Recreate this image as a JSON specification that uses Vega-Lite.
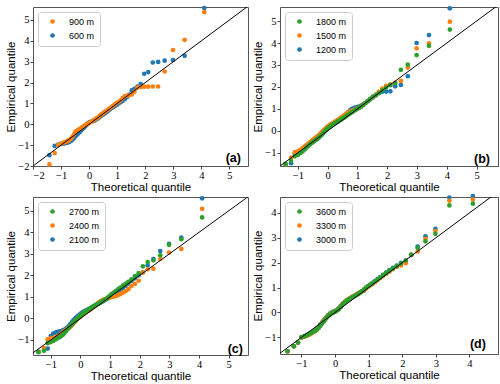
{
"$schema": "https://vega.github.io/schema/vega-lite/v6.json",
"padding": {"left": 5, "top": 5, "right": 2, "bottom": 0},
"concat": [
{"width": 215, "height": 159,
 "encoding": {
  "x": {"field": "x", "type": "quantitative", "scale": {"domain": [-2, 5.66], "nice": false, "zero": false}, "axis": {"values": [-2,-1,0,1,2,3,4,5], "format": "d", "title": "Theoretical quantile"}},
  "y": {"field": "y", "type": "quantitative", "scale": {"domain": [-2, 5.62], "nice": false, "zero": false}, "axis": {"values": [-2,-1,0,1,2,3,4,5], "format": "d", "title": "Empirical quantile"}}},
 "layer": [
  {"data": {"name": "a"}, "mark": {"type": "point", "filled": true, "size": 22, "opacity": 1},
   "encoding": {"color": {"field": "s", "type": "nominal", "scale": {"domain": ["900 m", "600 m"], "range": ["#ff7f0e", "#1f77b4"]}, "legend": {"title": null}}}},
  {"data": {"values": [{"x": -3, "y": -3}, {"x": 8, "y": 8}]}, "mark": {"type": "line", "color": "black", "strokeWidth": 1, "clip": true}},
  {"data": {"values": [{"x": 5.41, "y": -1.64, "t": "(a)"}]}, "mark": {"type": "text", "align": "right", "baseline": "middle", "fontWeight": "bold", "fontSize": 12.5, "font": "Liberation Sans"}, "encoding": {"text": {"field": "t"}}}
 ]},
{"width": 218, "height": 159,
 "encoding": {
  "x": {"field": "x", "type": "quantitative", "scale": {"domain": [-1.6, 5.72], "nice": false, "zero": false}, "axis": {"values": [-1,0,1,2,3,4,5], "format": "d", "title": "Theoretical quantile"}},
  "y": {"field": "y", "type": "quantitative", "scale": {"domain": [-1.6, 5.64], "nice": false, "zero": false}, "axis": {"values": [-1,0,1,2,3,4,5], "format": "d", "title": "Empirical quantile"}}},
 "layer": [
  {"data": {"name": "b"}, "mark": {"type": "point", "filled": true, "size": 22, "opacity": 1},
   "encoding": {"color": {"field": "s", "type": "nominal", "scale": {"domain": ["1800 m", "1500 m", "1200 m"], "range": ["#2ca02c", "#ff7f0e", "#1f77b4"]}, "legend": {"title": null}}}},
  {"data": {"values": [{"x": -3, "y": -3}, {"x": 8, "y": 8}]}, "mark": {"type": "line", "color": "black", "strokeWidth": 1, "clip": true}},
  {"data": {"values": [{"x": 5.45, "y": -1.26, "t": "(b)"}]}, "mark": {"type": "text", "align": "right", "baseline": "middle", "fontWeight": "bold", "fontSize": 12.5, "font": "Liberation Sans"}, "encoding": {"text": {"field": "t"}}}
 ]},
{"width": 215, "height": 158,
 "encoding": {
  "x": {"field": "x", "type": "quantitative", "scale": {"domain": [-1.6, 5.65], "nice": false, "zero": false}, "axis": {"values": [-1,0,1,2,3,4,5], "format": "d", "title": "Theoretical quantile"}},
  "y": {"field": "y", "type": "quantitative", "scale": {"domain": [-1.7, 5.64], "nice": false, "zero": false}, "axis": {"values": [-1,0,1,2,3,4,5], "format": "d", "title": "Empirical quantile"}}},
 "layer": [
  {"data": {"name": "c"}, "mark": {"type": "point", "filled": true, "size": 22, "opacity": 1},
   "encoding": {"color": {"field": "s", "type": "nominal", "scale": {"domain": ["2700 m", "2400 m", "2100 m"], "range": ["#2ca02c", "#ff7f0e", "#1f77b4"]}, "legend": {"title": null}}}},
  {"data": {"values": [{"x": -3, "y": -3}, {"x": 8, "y": 8}]}, "mark": {"type": "line", "color": "black", "strokeWidth": 1, "clip": true}},
  {"data": {"values": [{"x": 5.48, "y": -1.4, "t": "(c)"}]}, "mark": {"type": "text", "align": "right", "baseline": "middle", "fontWeight": "bold", "fontSize": 12.5, "font": "Liberation Sans"}, "encoding": {"text": {"field": "t"}}}
 ]},
{"width": 218, "height": 157,
 "encoding": {
  "x": {"field": "x", "type": "quantitative", "scale": {"domain": [-1.64, 4.85], "nice": false, "zero": false}, "axis": {"values": [-1,0,1,2,3,4], "format": "d", "title": "Theoretical quantile"}},
  "y": {"field": "y", "type": "quantitative", "scale": {"domain": [-1.67, 4.64], "nice": false, "zero": false}, "axis": {"values": [-1,0,1,2,3,4], "format": "d", "title": "Empirical quantile"}}},
 "layer": [
  {"data": {"name": "d"}, "mark": {"type": "point", "filled": true, "size": 22, "opacity": 1},
   "encoding": {"color": {"field": "s", "type": "nominal", "scale": {"domain": ["3600 m", "3300 m", "3000 m"], "range": ["#2ca02c", "#ff7f0e", "#1f77b4"]}, "legend": {"title": null}}}},
  {"data": {"values": [{"x": -3, "y": -3}, {"x": 8, "y": 8}]}, "mark": {"type": "line", "color": "black", "strokeWidth": 1, "clip": true}},
  {"data": {"values": [{"x": 4.49, "y": -1.27, "t": "(d)"}]}, "mark": {"type": "text", "align": "right", "baseline": "middle", "fontWeight": "bold", "fontSize": 12.5, "font": "Liberation Sans"}, "encoding": {"text": {"field": "t"}}}
 ]}
],
"columns": 2,
"spacing": {"row": 31, "column": 32},
"bounds": "flush",
"align": "each",
"resolve": {"scale": {"color": "independent"}, "legend": {"color": "independent"}},
"config": {
 "view": {"stroke": "#555", "strokeWidth": 1},
 "axis": {"grid": false, "domain": false, "tickSize": 3, "tickColor": "#444", "labelFont": "Liberation Serif", "labelFontSize": 10.5, "labelColor": "black", "labelPadding": 1, "titleFont": "Liberation Sans", "titleFontSize": 11.5, "titleFontWeight": "normal", "titleColor": "black", "titlePadding": 1},
 "legend": {"orient": "top-left", "offset": 5, "padding": 5, "strokeColor": "#ccc", "fillColor": "white", "cornerRadius": 3, "symbolType": "circle", "symbolSize": 22, "symbolStrokeWidth": 0, "symbolOffset": 5, "labelFont": "Liberation Sans", "labelFontSize": 9, "labelColor": "black", "labelOffset": 12, "rowPadding": 4}
},
"datasets": {
"a": [
{"s":"600 m","x":-1.414,"y":-1.48},{"s":"600 m","x":-1.229,"y":-1.04},{"s":"600 m","x":-1.103,"y":-0.97},{"s":"600 m","x":-1.002,"y":-0.95},{"s":"600 m","x":-0.917,"y":-0.93},{"s":"600 m","x":-0.841,"y":-0.91},{"s":"600 m","x":-0.772,"y":-0.88},{"s":"600 m","x":-0.709,"y":-0.85},{"s":"600 m","x":-0.649,"y":-0.80},{"s":"600 m","x":-0.592,"y":-0.74},
{"s":"600 m","x":-0.538,"y":-0.66},{"s":"600 m","x":-0.486,"y":-0.58},{"s":"600 m","x":-0.436,"y":-0.50},{"s":"600 m","x":-0.386,"y":-0.44},{"s":"600 m","x":-0.338,"y":-0.37},{"s":"600 m","x":-0.291,"y":-0.30},{"s":"600 m","x":-0.245,"y":-0.24},{"s":"600 m","x":-0.199,"y":-0.18},{"s":"600 m","x":-0.154,"y":-0.12},{"s":"600 m","x":-0.109,"y":-0.06},
{"s":"600 m","x":-0.064,"y":0.02},{"s":"600 m","x":-0.02,"y":0.07},{"s":"600 m","x":0.025,"y":0.10},{"s":"600 m","x":0.07,"y":0.12},{"s":"600 m","x":0.114,"y":0.14},{"s":"600 m","x":0.159,"y":0.16},{"s":"600 m","x":0.205,"y":0.19},{"s":"600 m","x":0.25,"y":0.23},{"s":"600 m","x":0.296,"y":0.27},{"s":"600 m","x":0.343,"y":0.31},
{"s":"600 m","x":0.39,"y":0.36},{"s":"600 m","x":0.438,"y":0.41},{"s":"600 m","x":0.487,"y":0.46},{"s":"600 m","x":0.537,"y":0.50},{"s":"600 m","x":0.588,"y":0.55},{"s":"600 m","x":0.64,"y":0.60},{"s":"600 m","x":0.693,"y":0.66},{"s":"600 m","x":0.748,"y":0.72},{"s":"600 m","x":0.805,"y":0.78},{"s":"600 m","x":0.863,"y":0.83},
{"s":"600 m","x":0.923,"y":0.88},{"s":"600 m","x":0.986,"y":0.94},{"s":"600 m","x":1.051,"y":1.00},{"s":"600 m","x":1.119,"y":1.06},{"s":"600 m","x":1.19,"y":1.12},{"s":"600 m","x":1.265,"y":1.20},{"s":"600 m","x":1.344,"y":1.30},{"s":"600 m","x":1.429,"y":1.42},{"s":"600 m","x":1.519,"y":1.62},{"s":"600 m","x":1.615,"y":1.70},
{"s":"600 m","x":1.72,"y":1.80},{"s":"600 m","x":1.835,"y":1.93},{"s":"600 m","x":1.963,"y":2.42},{"s":"600 m","x":2.105,"y":2.50},{"s":"600 m","x":2.268,"y":2.96},{"s":"600 m","x":2.459,"y":2.99},{"s":"600 m","x":2.691,"y":3.05},{"s":"600 m","x":2.987,"y":3.08},{"s":"600 m","x":3.402,"y":3.28},{"s":"600 m","x":4.103,"y":5.57},
{"s":"900 m","x":-1.414,"y":-1.92},{"s":"900 m","x":-1.229,"y":-1.38},{"s":"900 m","x":-1.103,"y":-1.00},{"s":"900 m","x":-1.002,"y":-0.93},{"s":"900 m","x":-0.917,"y":-0.88},{"s":"900 m","x":-0.841,"y":-0.85},{"s":"900 m","x":-0.772,"y":-0.80},{"s":"900 m","x":-0.709,"y":-0.76},{"s":"900 m","x":-0.649,"y":-0.70},{"s":"900 m","x":-0.592,"y":-0.60},
{"s":"900 m","x":-0.538,"y":-0.48},{"s":"900 m","x":-0.486,"y":-0.36},{"s":"900 m","x":-0.436,"y":-0.31},{"s":"900 m","x":-0.386,"y":-0.27},{"s":"900 m","x":-0.338,"y":-0.23},{"s":"900 m","x":-0.291,"y":-0.19},{"s":"900 m","x":-0.245,"y":-0.14},{"s":"900 m","x":-0.199,"y":-0.10},{"s":"900 m","x":-0.154,"y":-0.06},{"s":"900 m","x":-0.109,"y":-0.02},
{"s":"900 m","x":-0.064,"y":0.01},{"s":"900 m","x":-0.02,"y":0.04},{"s":"900 m","x":0.025,"y":0.08},{"s":"900 m","x":0.07,"y":0.11},{"s":"900 m","x":0.114,"y":0.15},{"s":"900 m","x":0.159,"y":0.19},{"s":"900 m","x":0.205,"y":0.23},{"s":"900 m","x":0.25,"y":0.27},{"s":"900 m","x":0.296,"y":0.31},{"s":"900 m","x":0.343,"y":0.36},
{"s":"900 m","x":0.39,"y":0.41},{"s":"900 m","x":0.438,"y":0.47},{"s":"900 m","x":0.487,"y":0.52},{"s":"900 m","x":0.537,"y":0.57},{"s":"900 m","x":0.588,"y":0.62},{"s":"900 m","x":0.64,"y":0.67},{"s":"900 m","x":0.693,"y":0.72},{"s":"900 m","x":0.748,"y":0.78},{"s":"900 m","x":0.805,"y":0.84},{"s":"900 m","x":0.863,"y":0.90},
{"s":"900 m","x":0.923,"y":0.96},{"s":"900 m","x":0.986,"y":1.02},{"s":"900 m","x":1.051,"y":1.08},{"s":"900 m","x":1.119,"y":1.15},{"s":"900 m","x":1.19,"y":1.25},{"s":"900 m","x":1.265,"y":1.34},{"s":"900 m","x":1.344,"y":1.37},{"s":"900 m","x":1.429,"y":1.39},{"s":"900 m","x":1.519,"y":1.43},{"s":"900 m","x":1.615,"y":1.56},
{"s":"900 m","x":1.72,"y":1.76},{"s":"900 m","x":1.835,"y":1.79},{"s":"900 m","x":1.963,"y":1.80},{"s":"900 m","x":2.105,"y":1.80},{"s":"900 m","x":2.268,"y":1.81},{"s":"900 m","x":2.459,"y":1.81},{"s":"900 m","x":2.691,"y":2.53},{"s":"900 m","x":2.987,"y":3.56},{"s":"900 m","x":3.402,"y":4.04},{"s":"900 m","x":4.103,"y":5.37}
],
"b": [
{"s":"1200 m","x":-1.414,"y":-1.50},{"s":"1200 m","x":-1.229,"y":-1.47},{"s":"1200 m","x":-1.103,"y":-1.05},{"s":"1200 m","x":-1.002,"y":-0.98},{"s":"1200 m","x":-0.917,"y":-0.93},{"s":"1200 m","x":-0.841,"y":-0.87},{"s":"1200 m","x":-0.772,"y":-0.80},{"s":"1200 m","x":-0.709,"y":-0.74},{"s":"1200 m","x":-0.649,"y":-0.67},{"s":"1200 m","x":-0.592,"y":-0.60},
{"s":"1200 m","x":-0.538,"y":-0.54},{"s":"1200 m","x":-0.486,"y":-0.48},{"s":"1200 m","x":-0.436,"y":-0.43},{"s":"1200 m","x":-0.386,"y":-0.38},{"s":"1200 m","x":-0.338,"y":-0.32},{"s":"1200 m","x":-0.291,"y":-0.26},{"s":"1200 m","x":-0.245,"y":-0.20},{"s":"1200 m","x":-0.199,"y":-0.13},{"s":"1200 m","x":-0.154,"y":-0.07},{"s":"1200 m","x":-0.109,"y":0.00},
{"s":"1200 m","x":-0.064,"y":0.06},{"s":"1200 m","x":-0.02,"y":0.11},{"s":"1200 m","x":0.025,"y":0.16},{"s":"1200 m","x":0.07,"y":0.20},{"s":"1200 m","x":0.114,"y":0.24},{"s":"1200 m","x":0.159,"y":0.28},{"s":"1200 m","x":0.205,"y":0.32},{"s":"1200 m","x":0.25,"y":0.36},{"s":"1200 m","x":0.296,"y":0.40},{"s":"1200 m","x":0.343,"y":0.44},
{"s":"1200 m","x":0.39,"y":0.48},{"s":"1200 m","x":0.438,"y":0.53},{"s":"1200 m","x":0.487,"y":0.58},{"s":"1200 m","x":0.537,"y":0.64},{"s":"1200 m","x":0.588,"y":0.70},{"s":"1200 m","x":0.64,"y":0.78},{"s":"1200 m","x":0.693,"y":0.86},{"s":"1200 m","x":0.748,"y":0.93},{"s":"1200 m","x":0.805,"y":0.99},{"s":"1200 m","x":0.863,"y":1.03},
{"s":"1200 m","x":0.923,"y":1.06},{"s":"1200 m","x":0.986,"y":1.08},{"s":"1200 m","x":1.051,"y":1.11},{"s":"1200 m","x":1.119,"y":1.15},{"s":"1200 m","x":1.19,"y":1.20},{"s":"1200 m","x":1.265,"y":1.27},{"s":"1200 m","x":1.344,"y":1.35},{"s":"1200 m","x":1.429,"y":1.43},{"s":"1200 m","x":1.519,"y":1.52},{"s":"1200 m","x":1.615,"y":1.62},
{"s":"1200 m","x":1.72,"y":1.72},{"s":"1200 m","x":1.835,"y":1.78},{"s":"1200 m","x":1.963,"y":1.79},{"s":"1200 m","x":2.105,"y":1.80},{"s":"1200 m","x":2.268,"y":2.03},{"s":"1200 m","x":2.459,"y":2.09},{"s":"1200 m","x":2.691,"y":2.49},{"s":"1200 m","x":2.987,"y":4.00},{"s":"1200 m","x":3.402,"y":4.36},{"s":"1200 m","x":4.103,"y":5.58},
{"s":"1500 m","x":-1.414,"y":-1.53},{"s":"1500 m","x":-1.229,"y":-1.22},{"s":"1500 m","x":-1.103,"y":-0.97},{"s":"1500 m","x":-1.002,"y":-0.93},{"s":"1500 m","x":-0.917,"y":-0.86},{"s":"1500 m","x":-0.841,"y":-0.78},{"s":"1500 m","x":-0.772,"y":-0.71},{"s":"1500 m","x":-0.709,"y":-0.65},{"s":"1500 m","x":-0.649,"y":-0.58},{"s":"1500 m","x":-0.592,"y":-0.52},
{"s":"1500 m","x":-0.538,"y":-0.46},{"s":"1500 m","x":-0.486,"y":-0.40},{"s":"1500 m","x":-0.436,"y":-0.34},{"s":"1500 m","x":-0.386,"y":-0.29},{"s":"1500 m","x":-0.338,"y":-0.24},{"s":"1500 m","x":-0.291,"y":-0.19},{"s":"1500 m","x":-0.245,"y":-0.13},{"s":"1500 m","x":-0.199,"y":-0.07},{"s":"1500 m","x":-0.154,"y":-0.01},{"s":"1500 m","x":-0.109,"y":0.06},
{"s":"1500 m","x":-0.064,"y":0.12},{"s":"1500 m","x":-0.02,"y":0.17},{"s":"1500 m","x":0.025,"y":0.22},{"s":"1500 m","x":0.07,"y":0.26},{"s":"1500 m","x":0.114,"y":0.30},{"s":"1500 m","x":0.159,"y":0.34},{"s":"1500 m","x":0.205,"y":0.38},{"s":"1500 m","x":0.25,"y":0.42},{"s":"1500 m","x":0.296,"y":0.46},{"s":"1500 m","x":0.343,"y":0.50},
{"s":"1500 m","x":0.39,"y":0.54},{"s":"1500 m","x":0.438,"y":0.59},{"s":"1500 m","x":0.487,"y":0.64},{"s":"1500 m","x":0.537,"y":0.69},{"s":"1500 m","x":0.588,"y":0.74},{"s":"1500 m","x":0.64,"y":0.79},{"s":"1500 m","x":0.693,"y":0.84},{"s":"1500 m","x":0.748,"y":0.88},{"s":"1500 m","x":0.805,"y":0.91},{"s":"1500 m","x":0.863,"y":0.94},
{"s":"1500 m","x":0.923,"y":0.97},{"s":"1500 m","x":0.986,"y":1.01},{"s":"1500 m","x":1.051,"y":1.05},{"s":"1500 m","x":1.119,"y":1.10},{"s":"1500 m","x":1.19,"y":1.18},{"s":"1500 m","x":1.265,"y":1.27},{"s":"1500 m","x":1.344,"y":1.36},{"s":"1500 m","x":1.429,"y":1.45},{"s":"1500 m","x":1.519,"y":1.54},{"s":"1500 m","x":1.615,"y":1.65},
{"s":"1500 m","x":1.72,"y":1.78},{"s":"1500 m","x":1.835,"y":1.93},{"s":"1500 m","x":1.963,"y":2.05},{"s":"1500 m","x":2.105,"y":2.12},{"s":"1500 m","x":2.268,"y":2.20},{"s":"1500 m","x":2.459,"y":2.28},{"s":"1500 m","x":2.691,"y":2.88},{"s":"1500 m","x":2.987,"y":3.76},{"s":"1500 m","x":3.402,"y":3.98},{"s":"1500 m","x":4.103,"y":4.97},
{"s":"1800 m","x":-1.414,"y":-1.53},{"s":"1800 m","x":-1.229,"y":-1.36},{"s":"1800 m","x":-1.103,"y":-1.16},{"s":"1800 m","x":-1.002,"y":-1.10},{"s":"1800 m","x":-0.917,"y":-1.02},{"s":"1800 m","x":-0.841,"y":-0.94},{"s":"1800 m","x":-0.772,"y":-0.85},{"s":"1800 m","x":-0.709,"y":-0.76},{"s":"1800 m","x":-0.649,"y":-0.68},{"s":"1800 m","x":-0.592,"y":-0.61},
{"s":"1800 m","x":-0.538,"y":-0.55},{"s":"1800 m","x":-0.486,"y":-0.50},{"s":"1800 m","x":-0.436,"y":-0.45},{"s":"1800 m","x":-0.386,"y":-0.40},{"s":"1800 m","x":-0.338,"y":-0.35},{"s":"1800 m","x":-0.291,"y":-0.30},{"s":"1800 m","x":-0.245,"y":-0.24},{"s":"1800 m","x":-0.199,"y":-0.18},{"s":"1800 m","x":-0.154,"y":-0.11},{"s":"1800 m","x":-0.109,"y":-0.04},
{"s":"1800 m","x":-0.064,"y":0.03},{"s":"1800 m","x":-0.02,"y":0.09},{"s":"1800 m","x":0.025,"y":0.14},{"s":"1800 m","x":0.07,"y":0.19},{"s":"1800 m","x":0.114,"y":0.23},{"s":"1800 m","x":0.159,"y":0.27},{"s":"1800 m","x":0.205,"y":0.31},{"s":"1800 m","x":0.25,"y":0.35},{"s":"1800 m","x":0.296,"y":0.39},{"s":"1800 m","x":0.343,"y":0.43},
{"s":"1800 m","x":0.39,"y":0.47},{"s":"1800 m","x":0.438,"y":0.51},{"s":"1800 m","x":0.487,"y":0.55},{"s":"1800 m","x":0.537,"y":0.59},{"s":"1800 m","x":0.588,"y":0.64},{"s":"1800 m","x":0.64,"y":0.69},{"s":"1800 m","x":0.693,"y":0.74},{"s":"1800 m","x":0.748,"y":0.79},{"s":"1800 m","x":0.805,"y":0.84},{"s":"1800 m","x":0.863,"y":0.89},
{"s":"1800 m","x":0.923,"y":0.94},{"s":"1800 m","x":0.986,"y":0.99},{"s":"1800 m","x":1.051,"y":1.04},{"s":"1800 m","x":1.119,"y":1.10},{"s":"1800 m","x":1.19,"y":1.17},{"s":"1800 m","x":1.265,"y":1.26},{"s":"1800 m","x":1.344,"y":1.35},{"s":"1800 m","x":1.429,"y":1.46},{"s":"1800 m","x":1.519,"y":1.56},{"s":"1800 m","x":1.615,"y":1.63},
{"s":"1800 m","x":1.72,"y":1.72},{"s":"1800 m","x":1.835,"y":1.84},{"s":"1800 m","x":1.963,"y":1.97},{"s":"1800 m","x":2.105,"y":2.08},{"s":"1800 m","x":2.268,"y":2.18},{"s":"1800 m","x":2.459,"y":2.78},{"s":"1800 m","x":2.691,"y":3.02},{"s":"1800 m","x":2.987,"y":3.45},{"s":"1800 m","x":3.402,"y":3.87},{"s":"1800 m","x":4.103,"y":4.61}
],
"c": [
{"s":"2100 m","x":-1.414,"y":-1.55},{"s":"2100 m","x":-1.229,"y":-1.47},{"s":"2100 m","x":-1.103,"y":-1.40},{"s":"2100 m","x":-1.002,"y":-0.82},{"s":"2100 m","x":-0.917,"y":-0.70},{"s":"2100 m","x":-0.841,"y":-0.66},{"s":"2100 m","x":-0.772,"y":-0.63},{"s":"2100 m","x":-0.709,"y":-0.61},{"s":"2100 m","x":-0.649,"y":-0.59},{"s":"2100 m","x":-0.592,"y":-0.56},
{"s":"2100 m","x":-0.538,"y":-0.52},{"s":"2100 m","x":-0.486,"y":-0.47},{"s":"2100 m","x":-0.436,"y":-0.41},{"s":"2100 m","x":-0.386,"y":-0.34},{"s":"2100 m","x":-0.338,"y":-0.26},{"s":"2100 m","x":-0.291,"y":-0.18},{"s":"2100 m","x":-0.245,"y":-0.10},{"s":"2100 m","x":-0.199,"y":-0.03},{"s":"2100 m","x":-0.154,"y":0.03},{"s":"2100 m","x":-0.109,"y":0.08},
{"s":"2100 m","x":-0.064,"y":0.13},{"s":"2100 m","x":-0.02,"y":0.18},{"s":"2100 m","x":0.025,"y":0.23},{"s":"2100 m","x":0.07,"y":0.28},{"s":"2100 m","x":0.114,"y":0.32},{"s":"2100 m","x":0.159,"y":0.35},{"s":"2100 m","x":0.205,"y":0.38},{"s":"2100 m","x":0.25,"y":0.41},{"s":"2100 m","x":0.296,"y":0.44},{"s":"2100 m","x":0.343,"y":0.47},
{"s":"2100 m","x":0.39,"y":0.51},{"s":"2100 m","x":0.438,"y":0.55},{"s":"2100 m","x":0.487,"y":0.59},{"s":"2100 m","x":0.537,"y":0.63},{"s":"2100 m","x":0.588,"y":0.67},{"s":"2100 m","x":0.64,"y":0.71},{"s":"2100 m","x":0.693,"y":0.75},{"s":"2100 m","x":0.748,"y":0.79},{"s":"2100 m","x":0.805,"y":0.84},{"s":"2100 m","x":0.863,"y":0.88},
{"s":"2100 m","x":0.923,"y":0.93},{"s":"2100 m","x":0.986,"y":0.98},{"s":"2100 m","x":1.051,"y":1.04},{"s":"2100 m","x":1.119,"y":1.10},{"s":"2100 m","x":1.19,"y":1.17},{"s":"2100 m","x":1.265,"y":1.24},{"s":"2100 m","x":1.344,"y":1.32},{"s":"2100 m","x":1.429,"y":1.41},{"s":"2100 m","x":1.519,"y":1.51},{"s":"2100 m","x":1.615,"y":1.62},
{"s":"2100 m","x":1.72,"y":1.74},{"s":"2100 m","x":1.835,"y":1.86},{"s":"2100 m","x":1.963,"y":2.00},{"s":"2100 m","x":2.105,"y":2.14},{"s":"2100 m","x":2.268,"y":2.47},{"s":"2100 m","x":2.459,"y":2.76},{"s":"2100 m","x":2.691,"y":3.13},{"s":"2100 m","x":2.987,"y":3.46},{"s":"2100 m","x":3.402,"y":3.75},{"s":"2100 m","x":4.103,"y":5.58},
{"s":"2400 m","x":-1.414,"y":-1.55},{"s":"2400 m","x":-1.229,"y":-1.38},{"s":"2400 m","x":-1.103,"y":-0.97},{"s":"2400 m","x":-1.002,"y":-0.93},{"s":"2400 m","x":-0.917,"y":-0.90},{"s":"2400 m","x":-0.841,"y":-0.87},{"s":"2400 m","x":-0.772,"y":-0.83},{"s":"2400 m","x":-0.709,"y":-0.78},{"s":"2400 m","x":-0.649,"y":-0.72},{"s":"2400 m","x":-0.592,"y":-0.65},
{"s":"2400 m","x":-0.538,"y":-0.58},{"s":"2400 m","x":-0.486,"y":-0.52},{"s":"2400 m","x":-0.436,"y":-0.47},{"s":"2400 m","x":-0.386,"y":-0.43},{"s":"2400 m","x":-0.338,"y":-0.39},{"s":"2400 m","x":-0.291,"y":-0.33},{"s":"2400 m","x":-0.245,"y":-0.25},{"s":"2400 m","x":-0.199,"y":-0.17},{"s":"2400 m","x":-0.154,"y":-0.10},{"s":"2400 m","x":-0.109,"y":-0.04},
{"s":"2400 m","x":-0.064,"y":0.02},{"s":"2400 m","x":-0.02,"y":0.07},{"s":"2400 m","x":0.025,"y":0.12},{"s":"2400 m","x":0.07,"y":0.17},{"s":"2400 m","x":0.114,"y":0.22},{"s":"2400 m","x":0.159,"y":0.27},{"s":"2400 m","x":0.205,"y":0.31},{"s":"2400 m","x":0.25,"y":0.35},{"s":"2400 m","x":0.296,"y":0.39},{"s":"2400 m","x":0.343,"y":0.43},
{"s":"2400 m","x":0.39,"y":0.47},{"s":"2400 m","x":0.438,"y":0.52},{"s":"2400 m","x":0.487,"y":0.57},{"s":"2400 m","x":0.537,"y":0.63},{"s":"2400 m","x":0.588,"y":0.70},{"s":"2400 m","x":0.64,"y":0.76},{"s":"2400 m","x":0.693,"y":0.81},{"s":"2400 m","x":0.748,"y":0.85},{"s":"2400 m","x":0.805,"y":0.88},{"s":"2400 m","x":0.863,"y":0.91},
{"s":"2400 m","x":0.923,"y":0.94},{"s":"2400 m","x":0.986,"y":0.97},{"s":"2400 m","x":1.051,"y":0.99},{"s":"2400 m","x":1.119,"y":1.01},{"s":"2400 m","x":1.19,"y":1.04},{"s":"2400 m","x":1.265,"y":1.08},{"s":"2400 m","x":1.344,"y":1.13},{"s":"2400 m","x":1.429,"y":1.19},{"s":"2400 m","x":1.519,"y":1.26},{"s":"2400 m","x":1.615,"y":1.36},
{"s":"2400 m","x":1.72,"y":1.50},{"s":"2400 m","x":1.835,"y":1.60},{"s":"2400 m","x":1.963,"y":1.75},{"s":"2400 m","x":2.105,"y":2.13},{"s":"2400 m","x":2.268,"y":2.28},{"s":"2400 m","x":2.459,"y":2.31},{"s":"2400 m","x":2.691,"y":2.76},{"s":"2400 m","x":2.987,"y":3.06},{"s":"2400 m","x":3.402,"y":3.23},{"s":"2400 m","x":4.103,"y":5.09},
{"s":"2700 m","x":-1.414,"y":-1.57},{"s":"2700 m","x":-1.229,"y":-1.50},{"s":"2700 m","x":-1.103,"y":-1.15},{"s":"2700 m","x":-1.002,"y":-1.10},{"s":"2700 m","x":-0.917,"y":-1.05},{"s":"2700 m","x":-0.841,"y":-0.98},{"s":"2700 m","x":-0.772,"y":-0.92},{"s":"2700 m","x":-0.709,"y":-0.87},{"s":"2700 m","x":-0.649,"y":-0.82},{"s":"2700 m","x":-0.592,"y":-0.76},
{"s":"2700 m","x":-0.538,"y":-0.68},{"s":"2700 m","x":-0.486,"y":-0.59},{"s":"2700 m","x":-0.436,"y":-0.50},{"s":"2700 m","x":-0.386,"y":-0.42},{"s":"2700 m","x":-0.338,"y":-0.34},{"s":"2700 m","x":-0.291,"y":-0.27},{"s":"2700 m","x":-0.245,"y":-0.20},{"s":"2700 m","x":-0.199,"y":-0.14},{"s":"2700 m","x":-0.154,"y":-0.08},{"s":"2700 m","x":-0.109,"y":-0.02},
{"s":"2700 m","x":-0.064,"y":0.04},{"s":"2700 m","x":-0.02,"y":0.10},{"s":"2700 m","x":0.025,"y":0.16},{"s":"2700 m","x":0.07,"y":0.22},{"s":"2700 m","x":0.114,"y":0.27},{"s":"2700 m","x":0.159,"y":0.31},{"s":"2700 m","x":0.205,"y":0.35},{"s":"2700 m","x":0.25,"y":0.39},{"s":"2700 m","x":0.296,"y":0.43},{"s":"2700 m","x":0.343,"y":0.47},
{"s":"2700 m","x":0.39,"y":0.52},{"s":"2700 m","x":0.438,"y":0.56},{"s":"2700 m","x":0.487,"y":0.60},{"s":"2700 m","x":0.537,"y":0.64},{"s":"2700 m","x":0.588,"y":0.68},{"s":"2700 m","x":0.64,"y":0.72},{"s":"2700 m","x":0.693,"y":0.76},{"s":"2700 m","x":0.748,"y":0.80},{"s":"2700 m","x":0.805,"y":0.85},{"s":"2700 m","x":0.863,"y":0.90},
{"s":"2700 m","x":0.923,"y":0.97},{"s":"2700 m","x":0.986,"y":1.05},{"s":"2700 m","x":1.051,"y":1.13},{"s":"2700 m","x":1.119,"y":1.20},{"s":"2700 m","x":1.19,"y":1.27},{"s":"2700 m","x":1.265,"y":1.35},{"s":"2700 m","x":1.344,"y":1.43},{"s":"2700 m","x":1.429,"y":1.52},{"s":"2700 m","x":1.519,"y":1.60},{"s":"2700 m","x":1.615,"y":1.70},
{"s":"2700 m","x":1.72,"y":1.82},{"s":"2700 m","x":1.835,"y":1.97},{"s":"2700 m","x":1.963,"y":2.10},{"s":"2700 m","x":2.105,"y":2.42},{"s":"2700 m","x":2.268,"y":2.62},{"s":"2700 m","x":2.459,"y":2.70},{"s":"2700 m","x":2.691,"y":2.93},{"s":"2700 m","x":2.987,"y":3.42},{"s":"2700 m","x":3.402,"y":3.68},{"s":"2700 m","x":4.103,"y":4.69}
],
"d": [
{"s":"3000 m","x":-1.414,"y":-1.56},{"s":"3000 m","x":-1.229,"y":-1.36},{"s":"3000 m","x":-1.103,"y":-1.21},{"s":"3000 m","x":-1.002,"y":-1.00},{"s":"3000 m","x":-0.917,"y":-0.95},{"s":"3000 m","x":-0.841,"y":-0.90},{"s":"3000 m","x":-0.772,"y":-0.86},{"s":"3000 m","x":-0.709,"y":-0.81},{"s":"3000 m","x":-0.649,"y":-0.76},{"s":"3000 m","x":-0.592,"y":-0.71},
{"s":"3000 m","x":-0.538,"y":-0.65},{"s":"3000 m","x":-0.486,"y":-0.57},{"s":"3000 m","x":-0.436,"y":-0.48},{"s":"3000 m","x":-0.386,"y":-0.40},{"s":"3000 m","x":-0.338,"y":-0.32},{"s":"3000 m","x":-0.291,"y":-0.25},{"s":"3000 m","x":-0.245,"y":-0.18},{"s":"3000 m","x":-0.199,"y":-0.11},{"s":"3000 m","x":-0.154,"y":-0.05},{"s":"3000 m","x":-0.109,"y":-0.01},
{"s":"3000 m","x":-0.064,"y":0.02},{"s":"3000 m","x":-0.02,"y":0.04},{"s":"3000 m","x":0.025,"y":0.07},{"s":"3000 m","x":0.07,"y":0.11},{"s":"3000 m","x":0.114,"y":0.17},{"s":"3000 m","x":0.159,"y":0.25},{"s":"3000 m","x":0.205,"y":0.32},{"s":"3000 m","x":0.25,"y":0.38},{"s":"3000 m","x":0.296,"y":0.43},{"s":"3000 m","x":0.343,"y":0.48},
{"s":"3000 m","x":0.39,"y":0.52},{"s":"3000 m","x":0.438,"y":0.56},{"s":"3000 m","x":0.487,"y":0.60},{"s":"3000 m","x":0.537,"y":0.64},{"s":"3000 m","x":0.588,"y":0.68},{"s":"3000 m","x":0.64,"y":0.72},{"s":"3000 m","x":0.693,"y":0.76},{"s":"3000 m","x":0.748,"y":0.81},{"s":"3000 m","x":0.805,"y":0.86},{"s":"3000 m","x":0.863,"y":0.88},
{"s":"3000 m","x":0.923,"y":0.99},{"s":"3000 m","x":0.986,"y":1.06},{"s":"3000 m","x":1.051,"y":1.12},{"s":"3000 m","x":1.119,"y":1.19},{"s":"3000 m","x":1.19,"y":1.26},{"s":"3000 m","x":1.265,"y":1.34},{"s":"3000 m","x":1.344,"y":1.42},{"s":"3000 m","x":1.429,"y":1.51},{"s":"3000 m","x":1.519,"y":1.60},{"s":"3000 m","x":1.615,"y":1.70},
{"s":"3000 m","x":1.72,"y":1.79},{"s":"3000 m","x":1.835,"y":1.88},{"s":"3000 m","x":1.963,"y":1.99},{"s":"3000 m","x":2.105,"y":2.07},{"s":"3000 m","x":2.268,"y":2.30},{"s":"3000 m","x":2.459,"y":2.65},{"s":"3000 m","x":2.691,"y":3.06},{"s":"3000 m","x":2.987,"y":3.36},{"s":"3000 m","x":3.402,"y":4.62},{"s":"3000 m","x":4.103,"y":4.68},
{"s":"3300 m","x":-1.414,"y":-1.56},{"s":"3300 m","x":-1.229,"y":-1.36},{"s":"3300 m","x":-1.103,"y":-1.21},{"s":"3300 m","x":-1.002,"y":-1.01},{"s":"3300 m","x":-0.917,"y":-0.98},{"s":"3300 m","x":-0.841,"y":-0.94},{"s":"3300 m","x":-0.772,"y":-0.90},{"s":"3300 m","x":-0.709,"y":-0.85},{"s":"3300 m","x":-0.649,"y":-0.80},{"s":"3300 m","x":-0.592,"y":-0.75},
{"s":"3300 m","x":-0.538,"y":-0.68},{"s":"3300 m","x":-0.486,"y":-0.60},{"s":"3300 m","x":-0.436,"y":-0.50},{"s":"3300 m","x":-0.386,"y":-0.41},{"s":"3300 m","x":-0.338,"y":-0.33},{"s":"3300 m","x":-0.291,"y":-0.25},{"s":"3300 m","x":-0.245,"y":-0.18},{"s":"3300 m","x":-0.199,"y":-0.12},{"s":"3300 m","x":-0.154,"y":-0.07},{"s":"3300 m","x":-0.109,"y":-0.03},
{"s":"3300 m","x":-0.064,"y":0.00},{"s":"3300 m","x":-0.02,"y":0.03},{"s":"3300 m","x":0.025,"y":0.06},{"s":"3300 m","x":0.07,"y":0.10},{"s":"3300 m","x":0.114,"y":0.16},{"s":"3300 m","x":0.159,"y":0.23},{"s":"3300 m","x":0.205,"y":0.31},{"s":"3300 m","x":0.25,"y":0.38},{"s":"3300 m","x":0.296,"y":0.44},{"s":"3300 m","x":0.343,"y":0.49},
{"s":"3300 m","x":0.39,"y":0.53},{"s":"3300 m","x":0.438,"y":0.57},{"s":"3300 m","x":0.487,"y":0.61},{"s":"3300 m","x":0.537,"y":0.65},{"s":"3300 m","x":0.588,"y":0.69},{"s":"3300 m","x":0.64,"y":0.73},{"s":"3300 m","x":0.693,"y":0.77},{"s":"3300 m","x":0.748,"y":0.81},{"s":"3300 m","x":0.805,"y":0.85},{"s":"3300 m","x":0.863,"y":0.90},
{"s":"3300 m","x":0.923,"y":0.96},{"s":"3300 m","x":0.986,"y":1.03},{"s":"3300 m","x":1.051,"y":1.09},{"s":"3300 m","x":1.119,"y":1.15},{"s":"3300 m","x":1.19,"y":1.22},{"s":"3300 m","x":1.265,"y":1.30},{"s":"3300 m","x":1.344,"y":1.38},{"s":"3300 m","x":1.429,"y":1.46},{"s":"3300 m","x":1.519,"y":1.55},{"s":"3300 m","x":1.615,"y":1.64},
{"s":"3300 m","x":1.72,"y":1.74},{"s":"3300 m","x":1.835,"y":1.84},{"s":"3300 m","x":1.963,"y":1.89},{"s":"3300 m","x":2.105,"y":1.98},{"s":"3300 m","x":2.268,"y":2.32},{"s":"3300 m","x":2.459,"y":2.45},{"s":"3300 m","x":2.691,"y":2.96},{"s":"3300 m","x":2.987,"y":3.27},{"s":"3300 m","x":3.402,"y":4.49},{"s":"3300 m","x":4.103,"y":4.54},
{"s":"3600 m","x":-1.414,"y":-1.56},{"s":"3600 m","x":-1.229,"y":-1.36},{"s":"3600 m","x":-1.103,"y":-1.21},{"s":"3600 m","x":-1.002,"y":-1.00},{"s":"3600 m","x":-0.917,"y":-0.96},{"s":"3600 m","x":-0.841,"y":-0.92},{"s":"3600 m","x":-0.772,"y":-0.87},{"s":"3600 m","x":-0.709,"y":-0.82},{"s":"3600 m","x":-0.649,"y":-0.78},{"s":"3600 m","x":-0.592,"y":-0.74},
{"s":"3600 m","x":-0.538,"y":-0.69},{"s":"3600 m","x":-0.486,"y":-0.62},{"s":"3600 m","x":-0.436,"y":-0.53},{"s":"3600 m","x":-0.386,"y":-0.44},{"s":"3600 m","x":-0.338,"y":-0.36},{"s":"3600 m","x":-0.291,"y":-0.28},{"s":"3600 m","x":-0.245,"y":-0.20},{"s":"3600 m","x":-0.199,"y":-0.13},{"s":"3600 m","x":-0.154,"y":-0.08},{"s":"3600 m","x":-0.109,"y":-0.04},
{"s":"3600 m","x":-0.064,"y":-0.01},{"s":"3600 m","x":-0.02,"y":0.02},{"s":"3600 m","x":0.025,"y":0.05},{"s":"3600 m","x":0.07,"y":0.09},{"s":"3600 m","x":0.114,"y":0.14},{"s":"3600 m","x":0.159,"y":0.21},{"s":"3600 m","x":0.205,"y":0.29},{"s":"3600 m","x":0.25,"y":0.36},{"s":"3600 m","x":0.296,"y":0.42},{"s":"3600 m","x":0.343,"y":0.47},
{"s":"3600 m","x":0.39,"y":0.51},{"s":"3600 m","x":0.438,"y":0.55},{"s":"3600 m","x":0.487,"y":0.59},{"s":"3600 m","x":0.537,"y":0.63},{"s":"3600 m","x":0.588,"y":0.67},{"s":"3600 m","x":0.64,"y":0.71},{"s":"3600 m","x":0.693,"y":0.75},{"s":"3600 m","x":0.748,"y":0.80},{"s":"3600 m","x":0.805,"y":0.86},{"s":"3600 m","x":0.863,"y":0.93},
{"s":"3600 m","x":0.923,"y":1.00},{"s":"3600 m","x":0.986,"y":1.06},{"s":"3600 m","x":1.051,"y":1.12},{"s":"3600 m","x":1.119,"y":1.18},{"s":"3600 m","x":1.19,"y":1.25},{"s":"3600 m","x":1.265,"y":1.33},{"s":"3600 m","x":1.344,"y":1.41},{"s":"3600 m","x":1.429,"y":1.50},{"s":"3600 m","x":1.519,"y":1.59},{"s":"3600 m","x":1.615,"y":1.68},
{"s":"3600 m","x":1.72,"y":1.77},{"s":"3600 m","x":1.835,"y":1.86},{"s":"3600 m","x":1.963,"y":1.97},{"s":"3600 m","x":2.105,"y":2.09},{"s":"3600 m","x":2.268,"y":2.33},{"s":"3600 m","x":2.459,"y":2.59},{"s":"3600 m","x":2.691,"y":2.86},{"s":"3600 m","x":2.987,"y":3.16},{"s":"3600 m","x":3.402,"y":4.30},{"s":"3600 m","x":4.103,"y":4.37}
]
}
}
